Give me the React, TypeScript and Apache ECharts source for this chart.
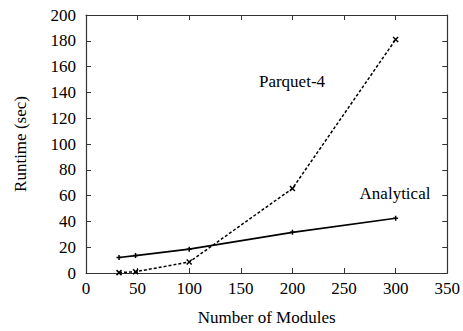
import React, { useEffect, useRef } from "react";
import * as echarts from "echarts";

const modules = [32, 48, 100, 200, 300];
const analytical = [12, 13.5, 18.5, 31.5, 42.5];
const parquet4 = [0.3, 1, 8.5, 65.5, 181];

const FONT = "'Liberation Serif', 'DejaVu Serif', serif";
const XMARK = "path://M0,0L10,10M10,0L0,10";
const PLUS = "path://M5,0L5,10M0,5L10,5";

export default function App() {
  const ref = useRef<HTMLDivElement>(null);
  useEffect(() => {
    document.body.style.margin = "0";
    document.body.style.overflow = "hidden";
    const chart = echarts.init(ref.current!, undefined, { renderer: "svg" });
    const axisCommon = {
      type: "value" as const,
      splitLine: { show: false },
      axisLine: { show: true, onZero: false, lineStyle: { color: "#333", width: 1.2 } },
      axisTick: { show: true, inside: true, length: 5, lineStyle: { color: "#333", width: 1 } },
    };
    const labelStyle = { fontFamily: FONT, fontSize: 17, color: "#000" };
    chart.setOption({
      animation: false,
      backgroundColor: "#fff",
      grid: { left: 86, right: 15, top: 15, bottom: 54 },
      xAxis: [
        {
          ...axisCommon,
          min: 0,
          max: 350,
          interval: 50,
          position: "bottom",
          name: "Number of Modules",
          nameLocation: "middle",
          nameGap: 36,
          nameTextStyle: labelStyle,
          axisLabel: { ...labelStyle, margin: 7 },
        },
        {
          ...axisCommon,
          min: 0,
          max: 350,
          interval: 50,
          position: "top",
          axisLabel: { show: false },
        },
      ],
      yAxis: [
        {
          ...axisCommon,
          min: 0,
          max: 200,
          interval: 20,
          position: "left",
          name: "Runtime (sec)",
          nameLocation: "middle",
          nameGap: 57,
          nameRotate: 90,
          nameTextStyle: labelStyle,
          axisLabel: { ...labelStyle, margin: 10 },
        },
        {
          ...axisCommon,
          min: 0,
          max: 200,
          interval: 20,
          position: "right",
          axisLabel: { show: false },
        },
      ],
      series: [
        {
          name: "Analytical",
          type: "line",
          data: modules.map((m, i) => [m, analytical[i]]),
          lineStyle: { color: "#000", width: 1.6 },
          symbol: PLUS,
          symbolSize: 5,
          itemStyle: { color: "none", borderColor: "#000", borderWidth: 1.5 },
        },
        {
          name: "Parquet-4",
          type: "line",
          data: modules.map((m, i) => [m, parquet4[i]]),
          lineStyle: { color: "#000", width: 1.5, type: [3, 2] },
          symbol: XMARK,
          symbolSize: 5,
          itemStyle: { color: "none", borderColor: "#000", borderWidth: 1.5 },
        },
      ],
      graphic: [
        {
          type: "text",
          x: 292,
          y: 81,
          style: { text: "Parquet-4", font: `17px ${FONT}`, fill: "#000", textAlign: "center", textVerticalAlign: "middle" },
        },
        {
          type: "text",
          x: 395,
          y: 193,
          style: { text: "Analytical", font: `17px ${FONT}`, fill: "#000", textAlign: "center", textVerticalAlign: "middle" },
        },
      ],
    });
    return () => chart.dispose();
  }, []);
  return <div ref={ref} style={{ width: 463, height: 331 }} />;
}
